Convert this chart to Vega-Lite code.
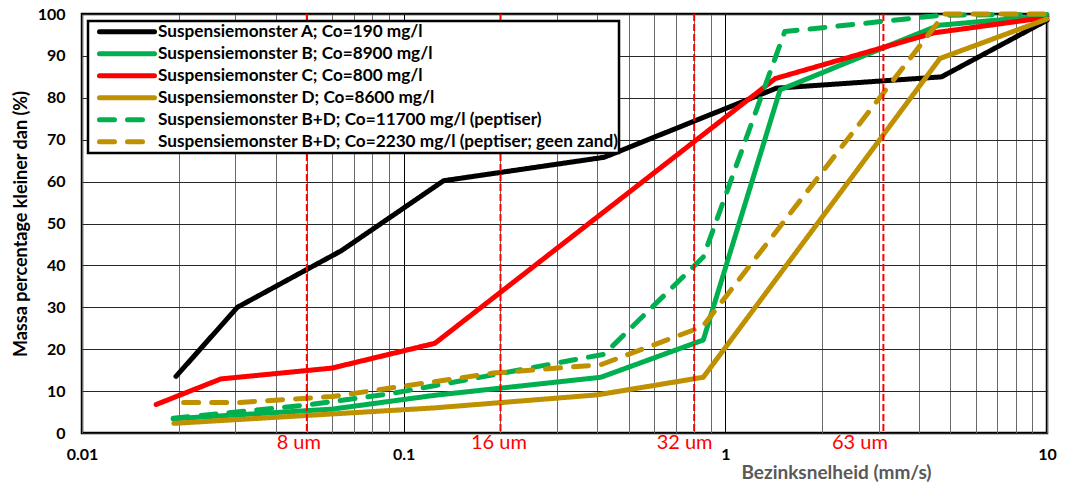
{
  "$schema": "https://vega.github.io/schema/vega-lite/v6.json",
  "width": 965,
  "height": 419,
  "autosize": {"type": "none"},
  "padding": {"left": 82, "top": 14, "right": 23, "bottom": 55},
  "background": "white",
  "config": {"view": {"stroke": "#000", "strokeWidth": 2.5}, "font": "Lato"},
  "datasets": {
    "curves": [
      {"series": "Suspensiemonster A; Co=190 mg/l", "v": 0.0196, "p": 13.5},
      {"series": "Suspensiemonster A; Co=190 mg/l", "v": 0.0304, "p": 30},
      {"series": "Suspensiemonster A; Co=190 mg/l", "v": 0.064, "p": 43.5},
      {"series": "Suspensiemonster A; Co=190 mg/l", "v": 0.133, "p": 60.2},
      {"series": "Suspensiemonster A; Co=190 mg/l", "v": 0.42, "p": 65.8},
      {"series": "Suspensiemonster A; Co=190 mg/l", "v": 1.44, "p": 82.3},
      {"series": "Suspensiemonster A; Co=190 mg/l", "v": 4.7, "p": 85},
      {"series": "Suspensiemonster A; Co=190 mg/l", "v": 10, "p": 98.5},
      {"series": "Suspensiemonster B; Co=8900 mg/l", "v": 0.0192, "p": 3.4},
      {"series": "Suspensiemonster B; Co=8900 mg/l", "v": 0.06, "p": 5.7},
      {"series": "Suspensiemonster B; Co=8900 mg/l", "v": 0.125, "p": 9},
      {"series": "Suspensiemonster B; Co=8900 mg/l", "v": 0.41, "p": 13.3},
      {"series": "Suspensiemonster B; Co=8900 mg/l", "v": 0.854, "p": 22.2},
      {"series": "Suspensiemonster B; Co=8900 mg/l", "v": 1.48, "p": 81.9},
      {"series": "Suspensiemonster B; Co=8900 mg/l", "v": 4.6, "p": 97.3},
      {"series": "Suspensiemonster B; Co=8900 mg/l", "v": 10, "p": 99.6},
      {"series": "Suspensiemonster C; Co=800 mg/l", "v": 0.017, "p": 6.8},
      {"series": "Suspensiemonster C; Co=800 mg/l", "v": 0.027, "p": 12.9},
      {"series": "Suspensiemonster C; Co=800 mg/l", "v": 0.06, "p": 15.5},
      {"series": "Suspensiemonster C; Co=800 mg/l", "v": 0.125, "p": 21.4},
      {"series": "Suspensiemonster C; Co=800 mg/l", "v": 1.43, "p": 84.6},
      {"series": "Suspensiemonster C; Co=800 mg/l", "v": 4.45, "p": 95.5},
      {"series": "Suspensiemonster C; Co=800 mg/l", "v": 10, "p": 99.2},
      {"series": "Suspensiemonster D; Co=8600 mg/l", "v": 0.0193, "p": 2.3},
      {"series": "Suspensiemonster D; Co=8600 mg/l", "v": 0.125, "p": 6.0},
      {"series": "Suspensiemonster D; Co=8600 mg/l", "v": 0.4, "p": 9.1},
      {"series": "Suspensiemonster D; Co=8600 mg/l", "v": 0.854, "p": 13.3},
      {"series": "Suspensiemonster D; Co=8600 mg/l", "v": 4.65, "p": 89.4},
      {"series": "Suspensiemonster D; Co=8600 mg/l", "v": 10, "p": 98.8},
      {"series": "Suspensiemonster B+D; Co=11700 mg/l (peptiser)", "v": 0.0192, "p": 3.5},
      {"series": "Suspensiemonster B+D; Co=11700 mg/l (peptiser)", "v": 0.05, "p": 6.7},
      {"series": "Suspensiemonster B+D; Co=11700 mg/l (peptiser)", "v": 0.093, "p": 9.5},
      {"series": "Suspensiemonster B+D; Co=11700 mg/l (peptiser)", "v": 0.2, "p": 14.2},
      {"series": "Suspensiemonster B+D; Co=11700 mg/l (peptiser)", "v": 0.42, "p": 18.8},
      {"series": "Suspensiemonster B+D; Co=11700 mg/l (peptiser)", "v": 0.854, "p": 42},
      {"series": "Suspensiemonster B+D; Co=11700 mg/l (peptiser)", "v": 1.53, "p": 95.8},
      {"series": "Suspensiemonster B+D; Co=11700 mg/l (peptiser)", "v": 4.7, "p": 99.7},
      {"series": "Suspensiemonster B+D; Co=11700 mg/l (peptiser)", "v": 10, "p": 99.9},
      {"series": "Suspensiemonster B+D; Co=2230 mg/l (peptiser; geen zand)", "v": 0.0207, "p": 7.3},
      {"series": "Suspensiemonster B+D; Co=2230 mg/l (peptiser; geen zand)", "v": 0.031, "p": 7.3},
      {"series": "Suspensiemonster B+D; Co=2230 mg/l (peptiser; geen zand)", "v": 0.06, "p": 8.7},
      {"series": "Suspensiemonster B+D; Co=2230 mg/l (peptiser; geen zand)", "v": 0.19, "p": 14.3},
      {"series": "Suspensiemonster B+D; Co=2230 mg/l (peptiser; geen zand)", "v": 0.41, "p": 16.3},
      {"series": "Suspensiemonster B+D; Co=2230 mg/l (peptiser; geen zand)", "v": 0.85, "p": 25.4},
      {"series": "Suspensiemonster B+D; Co=2230 mg/l (peptiser; geen zand)", "v": 4.8, "p": 100},
      {"series": "Suspensiemonster B+D; Co=2230 mg/l (peptiser; geen zand)", "v": 10, "p": 100}
    ],
    "sizes": [
      {"label": "8 um", "v": 0.05, "lx": 0.0472},
      {"label": "16 um", "v": 0.2, "lx": 0.1978},
      {"label": "32 um", "v": 0.8, "lx": 0.747},
      {"label": "63 um", "v": 3.1, "lx": 2.62}
    ]
  },
  "layer": [
    {
      "data": {"name": "curves"},
      "mark": {"type": "line", "strokeWidth": 5, "strokeCap": "round", "strokeJoin": "round"},
      "encoding": {
        "x": {
          "field": "v",
          "type": "quantitative",
          "scale": {"type": "log", "domain": [0.01, 10]},
          "axis": {
            "values": [0.01, 0.02, 0.03, 0.04, 0.05, 0.06, 0.07, 0.08, 0.09, 0.1, 0.2, 0.3, 0.4, 0.5, 0.6, 0.7, 0.8, 0.9, 1, 2, 3, 4, 5, 6, 7, 8, 9, 10],
            "format": "~g",
            "labelExpr": "(datum.value === 0.01 || datum.value === 0.1 || datum.value === 1 || datum.value === 10) ? datum.label : ''",
            "labelOverlap": false,
            "labelFlush": false,
            "labelBound": false,
            "grid": true,
            "gridColor": {"condition": {"test": "datum.value === 0.1 || datum.value === 1", "value": "#000000"}, "value": "#6a6a6a"},
            "gridWidth": 1,
            "domain": false,
            "ticks": false,
            "labelPadding": 13,
            "labelFont": "Lato",
            "labelFontSize": 16,
            "labelFontWeight": "bold",
            "labelColor": "#000",
            "title": "Bezinksnelheid (mm/s)",
            "titleFont": "Lato",
            "titleFontSize": 19,
            "titleFontWeight": "bold",
            "titleColor": "#595959",
            "titleX": 754,
            "titleY": 39.5,
            "titleAlign": "center",
            "titleBaseline": "middle"
          }
        },
        "y": {
          "field": "p",
          "type": "quantitative",
          "scale": {"domain": [0, 100], "nice": false},
          "axis": {
            "values": [0, 10, 20, 30, 40, 50, 60, 70, 80, 90, 100],
            "grid": true,
            "gridColor": "#262626",
            "gridWidth": 1,
            "domain": false,
            "ticks": false,
            "labelPadding": 17,
            "labelFont": "Lato",
            "labelFontSize": 16,
            "labelFontWeight": "bold",
            "labelColor": "#000",
            "title": "Massa percentage kleiner dan (%)",
            "titleFont": "Lato",
            "titleFontSize": 18,
            "titleFontWeight": "bold",
            "titleColor": "#000",
            "titleX": -61,
            "titleY": 209.5,
            "titleAngle": 270,
            "titleAlign": "center",
            "titleBaseline": "middle"
          }
        },
        "color": {
          "field": "series",
          "type": "nominal",
          "sort": null,
          "scale": {
            "domain": ["Suspensiemonster A; Co=190 mg/l", "Suspensiemonster B; Co=8900 mg/l", "Suspensiemonster C; Co=800 mg/l", "Suspensiemonster D; Co=8600 mg/l", "Suspensiemonster B+D; Co=11700 mg/l (peptiser)", "Suspensiemonster B+D; Co=2230 mg/l (peptiser; geen zand)"],
            "range": ["#000000", "#00B050", "#FF0000", "#BF9000", "#00B050", "#BF9000"]
          },
          "legend": {
            "title": null,
            "orient": "none",
            "legendX": 6,
            "legendY": 7,
            "symbolType": "stroke",
            "symbolSize": 3025,
            "symbolStrokeWidth": 5,
            "clipHeight": 21.6,
            "rowPadding": 0,
            "padding": 0,
            "symbolOffset": 9,
            "labelOffset": 1,
            "labelFont": "Lato",
            "labelFontSize": 17.2,
            "labelFontWeight": "bold",
            "labelColor": "#000",
            "labelLimit": 800,
            "strokeColor": "#000",
            "fillColor": "#fff",
            "encode": {
              "legend": {"update": {"strokeWidth": {"value": 2.5}}},
              "symbols": {"update": {"strokeCap": {"value": "round"}}}
            }
          }
        },
        "strokeDash": {
          "field": "series",
          "type": "nominal",
          "sort": null,
          "scale": {
            "domain": ["Suspensiemonster A; Co=190 mg/l", "Suspensiemonster B; Co=8900 mg/l", "Suspensiemonster C; Co=800 mg/l", "Suspensiemonster D; Co=8600 mg/l", "Suspensiemonster B+D; Co=11700 mg/l (peptiser)", "Suspensiemonster B+D; Co=2230 mg/l (peptiser; geen zand)"],
            "range": [[1, 0], [1, 0], [1, 0], [1, 0], [15, 13], [15, 13]]
          },
          "legend": {
            "title": null,
            "orient": "none",
            "legendX": 6,
            "legendY": 7,
            "symbolType": "stroke",
            "symbolSize": 3025,
            "symbolStrokeWidth": 5,
            "clipHeight": 21.6,
            "rowPadding": 0,
            "padding": 0,
            "symbolOffset": 9,
            "labelOffset": 1,
            "labelFont": "Lato",
            "labelFontSize": 17.2,
            "labelFontWeight": "bold",
            "labelColor": "#000",
            "labelLimit": 800,
            "strokeColor": "#000",
            "fillColor": "#fff",
            "encode": {
              "legend": {"update": {"strokeWidth": {"value": 2.5}}},
              "symbols": {"update": {"strokeCap": {"value": "round"}}}
            }
          }
        }
      }
    },
    {
      "data": {"name": "sizes"},
      "mark": {"type": "rule", "color": "#FF0000", "strokeWidth": 2, "strokeDash": [7, 3]},
      "encoding": {"x": {"field": "v", "type": "quantitative"}}
    },
    {
      "data": {"name": "sizes"},
      "mark": {"type": "text", "color": "#FF0000", "font": "Lato", "fontSize": 20, "baseline": "top", "align": "center"},
      "encoding": {
        "x": {"field": "lx", "type": "quantitative"},
        "y": {"datum": 0},
        "text": {"field": "label"}
      }
    }
  ]
}
